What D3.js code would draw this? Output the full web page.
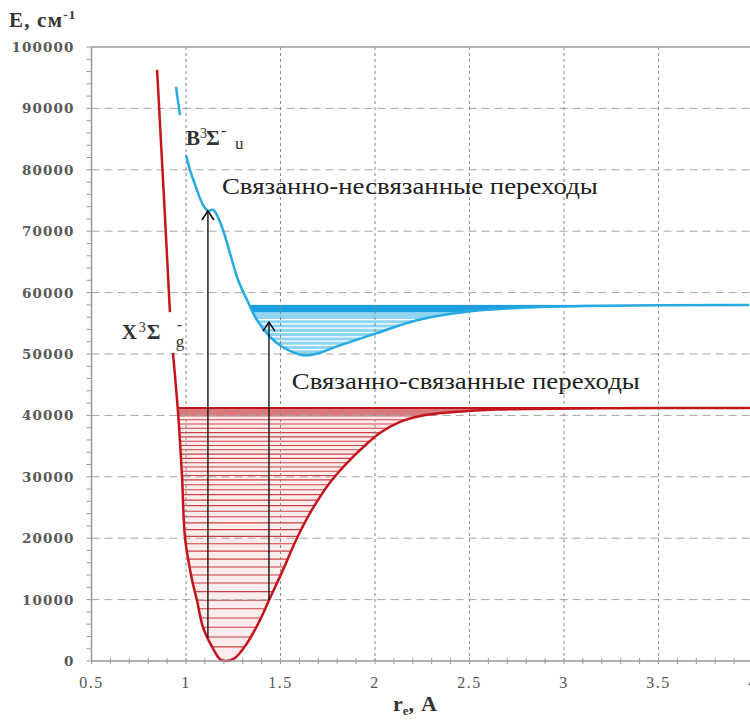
<!DOCTYPE html>
<html>
<head>
<meta charset="utf-8">
<script src="https://cdn.jsdelivr.net/npm/d3@7"></script>
<style>
  body { margin: 0; background: #fff; }
  svg { display: block; }
  .serif { font-family: "Liberation Serif", "Times New Roman", "DejaVu Serif", serif; }
  .dserif { font-family: "DejaVu Serif", "Liberation Serif", serif; }
</style>
</head>
<body>
<svg id="chart" width="750" height="720"></svg>
<script>
// potential curves (r in A, E in cm-1)
var redWallR = [0.847, 0.884, 0.915];
var redWallE = [96300, 75100, 56800];
var redWellR = [0.931, 0.958, 0.979, 0.995, 1.032, 1.058, 1.09, 1.138, 1.18, 1.212, 1.259, 1.323, 1.392, 1.439, 1.513, 1.587, 1.67, 1.76, 1.85, 1.94, 2.03, 2.13, 2.24, 2.4, 2.65, 3.19, 3.98];
var redWellE = [50200, 40400, 30000, 20000, 13200, 9900, 5500, 2300, 300, 0, 500, 2900, 6700, 9900, 14800, 20000, 24800, 29000, 32200, 34900, 37200, 38900, 39900, 40500, 40950, 41150, 41200];

var blueTopR = [0.947, 0.968];
var blueTopE = [93500, 88900];
var blueR = [1.0, 1.021, 1.058, 1.09, 1.116, 1.143, 1.169, 1.196, 1.233, 1.275, 1.323, 1.376, 1.444, 1.513, 1.62, 1.709, 1.778, 2.01, 2.222, 2.465, 2.75, 3.1, 3.98];
var blueE = [82400, 80000, 76700, 74300, 73300, 73500, 72300, 70200, 66400, 62100, 58800, 55500, 52800, 51100, 49800, 50200, 51000, 53400, 55500, 56800, 57500, 57800, 58000];

// vibrational levels
var redLevels = [2300, 3900, 5500, 7000, 8500, 9900, 11300, 12700, 14000, 15300, 16600, 17900, 19100, 20300, 21400, 22500, 23500, 24400, 25300, 26200, 27100, 27900, 28700, 29500, 30200, 30900, 31600, 32300, 33000, 33700, 34400, 35100, 35800, 36500, 37200, 37900, 38600, 39300];
var redBand = [39800, 41200];
var blueLevels = [50700, 51400, 52100, 52800, 53500, 54200, 54900, 55600];
var blueBand = [56800, 58000];

// transitions: r, lower E, upper E
var arrowR = [1.116, 1.439];
var arrowFrom = [3800, 9900];
var arrowTo = [73300, 55200];

var xTicks = [0.5, 1, 1.5, 2, 2.5, 3, 3.5, 4];
var xTickLabels = ['0.5', '1', '1.5', '2', '2.5', '3', '3.5', '4'];
var yTicks = [0, 10000, 20000, 30000, 40000, 50000, 60000, 70000, 80000, 90000, 100000];

var svg = d3.select('#chart');

var x = d3.scaleLinear().domain([0.5, 4]).range([91.5, 753]);
var y = d3.scaleLinear().domain([0, 100000]).range([661, 47]);

var line = d3.line()
  .x(function(d){ return x(d[0]) })
  .y(function(d){ return y(d[1]) })
  .curve(d3.curveCatmullRom.alpha(0.5));

function pts(rs, es) { return rs.map(function(r, i){ return [r, es[i]] }); }

var redWell = pts(redWellR, redWellE);
var blueAll = pts(blueR, blueE);
var blueWell = blueAll.slice(10);

var defs = svg.append('defs');
defs.append('clipPath').attr('id', 'redClip')
  .append('path').attr('d', line(redWell) + 'Z');
defs.append('clipPath').attr('id', 'blueClip')
  .append('path').attr('d', line(blueWell) + 'Z');

// red well fill and levels
var red = svg.append('g').attr('clip-path', 'url(#redClip)');
red.append('rect')
  .attr('x', x(0.5)).attr('width', x(4) - x(0.5))
  .attr('y', y(redBand[1])).attr('height', y(0) - y(redBand[1]))
  .attr('fill', '#fdecec');
red.selectAll('.lvl').data(redLevels).enter().append('line')
  .attr('class', 'lvl')
  .attr('x1', x(0.5)).attr('x2', x(4))
  .attr('y1', function(d){ return y(d) }).attr('y2', function(d){ return y(d) })
  .attr('stroke', '#cc3f44').attr('stroke-width', 1.1);
red.append('rect')
  .attr('x', x(0.5)).attr('width', x(4) - x(0.5))
  .attr('y', y(redBand[1])).attr('height', y(redBand[0]) - y(redBand[1]))
  .attr('fill', '#d97a7d');

// blue well fill and levels
var blue = svg.append('g').attr('clip-path', 'url(#blueClip)');
blue.append('rect')
  .attr('x', x(0.5)).attr('width', x(4) - x(0.5))
  .attr('y', y(blueBand[0])).attr('height', y(40000) - y(blueBand[0]))
  .attr('fill', '#8fd4f2');
blue.selectAll('.lvl').data(blueLevels).enter().append('line')
  .attr('class', 'lvl')
  .attr('x1', x(0.5)).attr('x2', x(4))
  .attr('y1', function(d){ return y(d) }).attr('y2', function(d){ return y(d) })
  .attr('stroke', '#fff').attr('stroke-width', 1.2);
blue.append('rect')
  .attr('x', x(0.5)).attr('width', x(4) - x(0.5))
  .attr('y', y(blueBand[1])).attr('height', y(blueBand[0]) - y(blueBand[1]))
  .attr('fill', '#1c9fe0');

// gridlines
svg.selectAll('.hgrid').data(yTicks.slice(1, -1)).enter().append('line')
  .attr('class', 'hgrid')
  .attr('x1', x(0.5)).attr('x2', 750)
  .attr('y1', function(d){ return y(d) }).attr('y2', function(d){ return y(d) })
  .attr('stroke', '#a5a5a5').attr('stroke-width', 1).attr('stroke-dasharray', '8,5');
svg.selectAll('.vgrid').data(xTicks.slice(1, -1)).enter().append('line')
  .attr('class', 'vgrid')
  .attr('x1', function(d){ return x(d) }).attr('x2', function(d){ return x(d) })
  .attr('y1', y(100000)).attr('y2', y(0))
  .attr('stroke', '#888').attr('stroke-width', 1).attr('stroke-dasharray', '3,3');

// top line of the red band
svg.append('line')
  .attr('x1', x(0.955)).attr('x2', 750)
  .attr('y1', y(redBand[1])).attr('y2', y(redBand[1]))
  .attr('stroke', '#c3161c').attr('stroke-width', 2);

// curves
svg.append('path').attr('d', line(pts(redWallR, redWallE)))
  .attr('fill', 'none').attr('stroke', '#c3161c').attr('stroke-width', 2.5);
svg.append('path').attr('d', line(redWell))
  .attr('fill', 'none').attr('stroke', '#c3161c').attr('stroke-width', 2.5);
svg.append('path').attr('d', line(pts(blueTopR, blueTopE)))
  .attr('fill', 'none').attr('stroke', '#27aae1').attr('stroke-width', 2.5);
svg.append('path').attr('d', line(blueAll))
  .attr('fill', 'none').attr('stroke', '#27aae1').attr('stroke-width', 2.5);

// transition arrows
arrowR.forEach(function(r, i){
  var ax = x(r), y0 = y(arrowFrom[i]), y1 = y(arrowTo[i]);
  svg.append('line')
    .attr('x1', ax).attr('x2', ax).attr('y1', y0).attr('y2', y1)
    .attr('stroke', '#111').attr('stroke-width', 1.4);
  svg.append('path')
    .attr('d', 'M' + (ax - 6) + ',' + (y1 + 9) + 'L' + ax + ',' + y1 + 'L' + (ax + 6) + ',' + (y1 + 9))
    .attr('fill', 'none').attr('stroke', '#111').attr('stroke-width', 1.6);
});

// axes
var axisCol = '#9a9a9a';
svg.append('line').attr('x1', x(0.5)).attr('x2', 750).attr('y1', y(100000)).attr('y2', y(100000))
  .attr('stroke', axisCol).attr('stroke-width', 1.5);
svg.append('line').attr('x1', x(0.5)).attr('x2', 750).attr('y1', y(0)).attr('y2', y(0))
  .attr('stroke', axisCol).attr('stroke-width', 1.5);
svg.append('line').attr('x1', x(0.5)).attr('x2', x(0.5)).attr('y1', y(0)).attr('y2', y(100000))
  .attr('stroke', axisCol).attr('stroke-width', 1.5);

svg.selectAll('.ymin').data(d3.range(0, 100001, 2000)).enter().append('line')
  .attr('class', 'ymin')
  .attr('x1', x(0.5) - 5).attr('x2', x(0.5))
  .attr('y1', function(d){ return y(d) }).attr('y2', function(d){ return y(d) })
  .attr('stroke', axisCol).attr('stroke-width', 1);
svg.selectAll('.xmin').data(d3.range(5, 41).map(function(d){ return d / 10 })).enter().append('line')
  .attr('class', 'xmin')
  .attr('x1', function(d){ return x(d) }).attr('x2', function(d){ return x(d) })
  .attr('y1', y(0) - 3).attr('y2', y(0) + 3)
  .attr('stroke', axisCol).attr('stroke-width', 1);

// y labels: one tspan per digit, spaced like the reference
var digitW = 10.5;
svg.selectAll('.ylab').data(yTicks).enter().append('text')
  .attr('class', 'ylab dserif')
  .attr('y', function(d){ return y(d) + 5 })
  .attr('text-anchor', 'middle')
  .style('font-size', '13.5px').style('font-weight', 'bold')
  .style('fill', '#595959')
  .each(function(d){
    var s = String(d), n = s.length, t = d3.select(this);
    s.split('').forEach(function(c, i){
      t.append('tspan').attr('x', 74 - (n - i - 0.5) * digitW).text(c);
    });
  });

svg.selectAll('.xlab').data(xTicks).enter().append('text')
  .attr('class', 'xlab serif')
  .attr('x', function(d){ return x(d) }).attr('y', 688)
  .attr('text-anchor', 'middle')
  .style('font-size', '16px').style('letter-spacing', '1.5px').style('fill', '#555')
  .text(function(d, i){ return xTickLabels[i] });

// axis titles
var yt = svg.append('text').attr('class', 'serif').attr('x', 9).attr('y', 27)
  .style('font-size', '21px').style('letter-spacing', '1.2px')
  .style('font-weight', 'bold').style('fill', '#333');
yt.append('tspan').text('E, см');
yt.append('tspan').attr('dy', -8).style('font-size', '13px').text('-1');

var xt = svg.append('text').attr('class', 'serif').attr('x', 393).attr('y', 711)
  .style('font-size', '22px')
  .style('font-weight', 'bold').style('fill', '#333');
xt.append('tspan').text('r');
xt.append('tspan').attr('dy', 4).style('font-size', '13px').text('e');
xt.append('tspan').attr('dy', -4).text(',');
xt.append('tspan').attr('dx', 7).text('A');

// state labels: offsets of superscript 3, sigma, minus and subscript
function stateLabel(r, e, letter, sub, off) {
  var x0 = x(r), y0 = y(e);
  var t = svg.append('text').attr('class', 'serif').attr('x', x0).attr('y', y0)
    .style('font-size', '21px')
    .style('font-weight', 'bold').style('fill', '#333');
  t.append('tspan').text(letter);
  t.append('tspan').attr('x', x0 + off[0]).attr('y', y0 - 7)
    .style('font-size', '14px').style('font-weight', 'normal').text('3');
  t.append('tspan').attr('x', x0 + off[1]).attr('y', y0).text('Σ');
  t.append('tspan').attr('x', x0 + off[2]).attr('y', y0 - 9)
    .style('font-size', '16px').style('font-weight', 'normal').text('-');
  t.append('tspan').attr('x', x0 + off[3]).attr('y', y0 + off[4])
    .style('font-size', '17px').style('font-weight', 'normal').text(sub);
}
stateLabel(1.0, 84000, 'B', 'u', [14, 20, 35, 49, 4]);
stateLabel(0.66, 52400, 'X', 'g', [17, 25, 55, 54, 8]);

svg.append('text').attr('class', 'serif').attr('x', x(1.19)).attr('y', y(76000))
  .attr('textLength', 376).attr('lengthAdjust', 'spacingAndGlyphs')
  .style('font-size', '23px').style('fill', '#222')
  .text('Связанно-несвязанные переходы');
svg.append('text').attr('class', 'serif').attr('x', x(1.56)).attr('y', y(44300))
  .attr('textLength', 348).attr('lengthAdjust', 'spacingAndGlyphs')
  .style('font-size', '23px').style('fill', '#222')
  .text('Связанно-связанные переходы');
</script>
</body>
</html>
